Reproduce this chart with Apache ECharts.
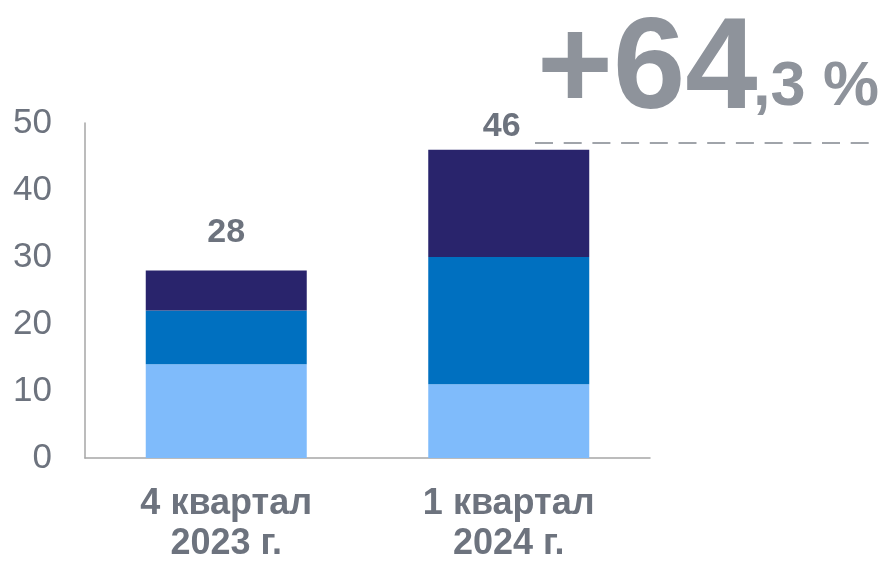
<!DOCTYPE html>
<html>
<head>
<meta charset="utf-8">
<script src="https://cdn.jsdelivr.net/npm/echarts@6/dist/echarts.min.js"></script>
<style>
  html, body { margin: 0; padding: 0; background: #fff; }
  #chart { width: 889px; height: 563px; }
</style>
</head>
<body>
<div id="chart"></div>
<script>
const categories = ['4 квартал\n2023 г.', '1 квартал\n2024 г.']
const lightValues = [14, 11]
const midValues = [8, 19]
const darkValues = [6, 16]
const totals = [28, 46]
const yTicks = [0, 10, 20, 30, 40, 50]

const textGray = '#6d737e'
const colors = { light: '#7fbbfb', mid: '#0070c0', dark: '#29246c' }
const fontFamily = '"Liberation Sans", Arial, sans-serif'

const chart = echarts.init(document.getElementById('chart'))

const option = {
  animation: false,
  grid: {
    left: 85, right: 239, top: 123, bottom: 105,
    containLabel: false,
    outerBoundsMode: 'none'
  },
  xAxis: {
    type: 'category',
    data: categories,
    axisLine: { lineStyle: { color: '#a6a6a6', width: 1.5 } },
    axisTick: { show: false },
    axisLabel: {
      color: textGray,
      fontFamily: fontFamily,
      fontWeight: 'bold',
      fontSize: 36,
      lineHeight: 40,
      margin: 26
    }
  },
  yAxis: {
    type: 'value',
    min: yTicks[0],
    max: yTicks[yTicks.length - 1],
    interval: 10,
    axisLine: { show: true, lineStyle: { color: '#a6a6a6', width: 1.5 } },
    axisTick: { show: false },
    splitLine: { show: false },
    axisLabel: {
      color: textGray,
      fontFamily: fontFamily,
      fontSize: 35,
      margin: 33
    }
  },
  series: [
    {
      type: 'bar', stack: 'total', barWidth: 161,
      data: lightValues,
      itemStyle: { color: colors.light }
    },
    {
      type: 'bar', stack: 'total',
      data: midValues,
      itemStyle: { color: colors.mid }
    },
    {
      type: 'bar', stack: 'total',
      data: darkValues.map((v, i) => ({
        value: v,
        label: i === 1 ? { distance: 6, offset: [-7, 0] } : { distance: 21 }
      })),
      itemStyle: { color: colors.dark },
      label: {
        show: true,
        position: 'top',
        formatter: p => totals[p.dataIndex],
        color: textGray,
        fontFamily: fontFamily,
        fontWeight: 'bold',
        fontSize: 34
      }
    }
  ],
  graphic: [
    // dashed guide next to the second bar's total
    {
      type: 'line',
      shape: { x1: 535, y1: 143, x2: 869, y2: 143 },
      style: { stroke: '#a0a4aa', lineWidth: 2, lineDash: [18, 10.7] }
    },
    {
      type: 'text', left: 537, top: 7,
      style: {
        text: '+64',
        fill: '#8e939b',
        font: 'bold 130px ' + fontFamily
      }
    },
    {
      type: 'text', left: 753, top: 56,
      style: {
        text: ',3 %',
        fill: '#8e939b',
        font: 'bold 63px ' + fontFamily
      }
    }
  ]
}

chart.setOption(option)
window.addEventListener('resize', () => chart.resize())
</script>
</body>
</html>
